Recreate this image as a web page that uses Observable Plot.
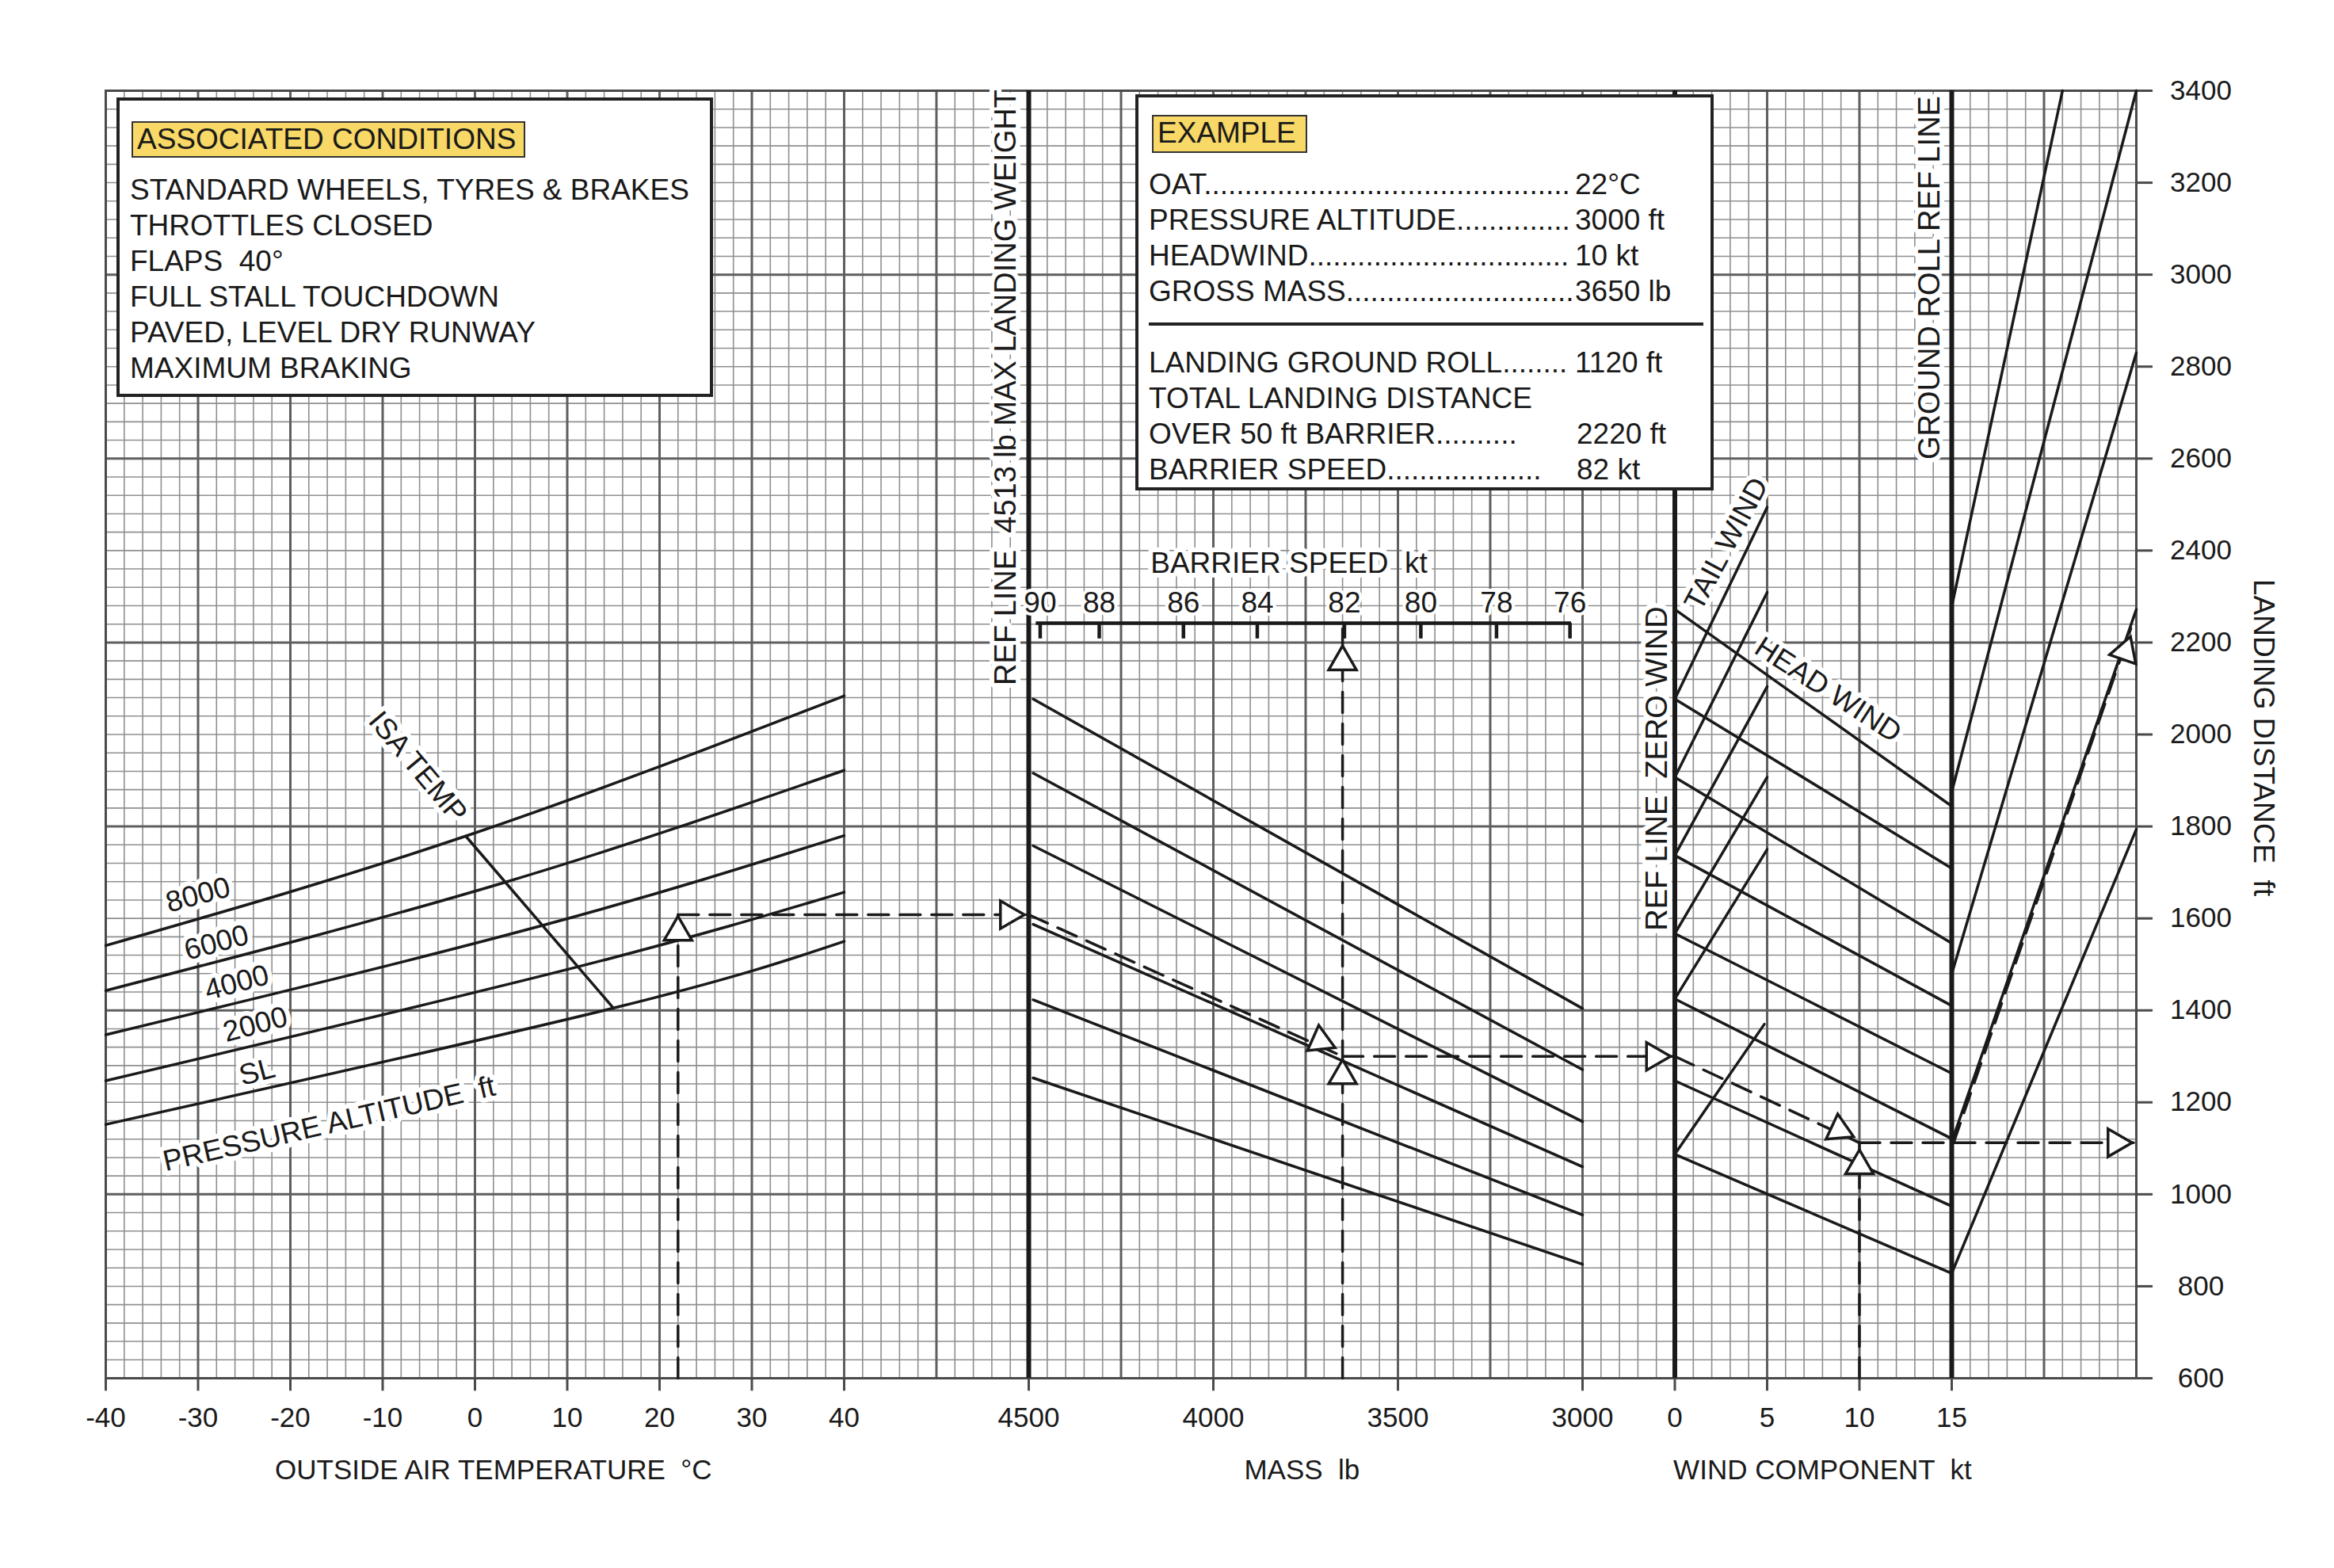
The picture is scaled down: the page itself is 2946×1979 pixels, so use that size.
<!DOCTYPE html>
<html>
<head>
<meta charset="utf-8">
<script src="https://cdn.jsdelivr.net/npm/d3@7"></script>
<script src="https://cdn.jsdelivr.net/npm/@observablehq/plot@0.6"></script>
<style>
  body { margin: 0; background: #fff; font-family: "Liberation Sans", Arial, sans-serif; color: #1a1a1a; }
  #wrap { position: relative; width: 2946px; height: 1979px; }
  #wrap svg text { white-space: pre; }
  .box { position: absolute; background: #fff; border: 4px solid #222; box-sizing: border-box; z-index: 2; }
  .tag { position: absolute; background: #f8d866; border: 2px solid #333; box-sizing: border-box;
         font-size: 37px; line-height: 42px; padding-left: 5px; white-space: nowrap; }
  .ln { position: absolute; font-size: 37px; line-height: 45px; white-space: pre; }
  .val { position: absolute; font-size: 37px; line-height: 45px; white-space: pre; }
  .rule { position: absolute; height: 4px; background: #222; }
  #chart { position: absolute; left: 0; top: 0; z-index: 1; }
</style>
</head>
<body>
<div id="wrap">
  <div class="box" style="left:147px;top:123px;width:753px;height:378px">
    <div class="tag" style="left:15px;top:26px;width:497px;height:46px">ASSOCIATED CONDITIONS</div>
    <div id="cond"></div>
  </div>
  <div class="box" style="left:1433px;top:119px;width:730px;height:500px">
    <div class="tag" style="left:17px;top:22px;width:196px;height:48px">EXAMPLE</div>
    <div id="ex"></div>
    <div class="rule" style="left:13px;top:284px;width:700px"></div>
  </div>
  <div id="chart"></div>
</div>
<script>
// Landing distance chart - three linked panels sharing a cell grid

const conditions = [
  "STANDARD WHEELS, TYRES & BRAKES",
  "THROTTLES CLOSED",
  "FLAPS  40°",
  "FULL STALL TOUCHDOWN",
  "PAVED, LEVEL DRY RUNWAY",
  "MAXIMUM BRAKING",
];
const exampleRows = [
  ["OAT", "22°C", true],
  ["PRESSURE ALTITUDE", "3000 ft", true],
  ["HEADWIND", "10 kt", true],
  ["GROSS MASS", "3650 lb", true],
  ["LANDING GROUND ROLL", "1120 ft", true],
  ["TOTAL LANDING DISTANCE", "", false],
  ["OVER 50 ft BARRIER..........", "2220 ft", false],
  ["BARRIER SPEED...................", "82 kt", false],
];

// OAT panel: pressure altitude curves (t °C, landing distance ft)
const altCurves = [
  { alt: "SL",   pts: [[-40, 1152], [15, 1405], [40, 1550]] },
  { alt: "2000", pts: [[-40, 1247], [11, 1494], [40, 1657]] },
  { alt: "4000", pts: [[-40, 1347], [7, 1583], [40, 1780]] },
  { alt: "6000", pts: [[-40, 1443], [3, 1677], [40, 1922]] },
  { alt: "8000", pts: [[-40, 1541], [-1, 1779], [40, 2084]] },
];
const isaTemp = [[-1, 1779], [15, 1405]];

// Mass panel guide lines: ft at 4488 lb, ft at 3000 lb
const massLines = [[2077, 1404], [1916, 1271], [1758, 1158], [1587, 1060], [1423, 955], [1253, 848]];
const barrierTicks = [
  { kt: 90, mass: 4469 }, { kt: 88, mass: 4309 }, { kt: 86, mass: 4081 }, { kt: 84, mass: 3881 },
  { kt: 82, mass: 3645 }, { kt: 80, mass: 3438 }, { kt: 78, mass: 3233 }, { kt: 76, mass: 3034 },
];

// Wind panel: head wind (ft at 0 kt, ft at 15 kt), tail wind (ft at 0, end kt, end ft)
const headLines = [[2272, 1844], [2077, 1709], [1907, 1546], [1737, 1410], [1567, 1263], [1425, 1121], [1247, 974], [1087, 828]];
const tailLines = [[2077, 5, 2494], [1907, 5, 2309], [1737, 5, 2104], [1567, 5, 1907], [1425, 5, 1750], [1087, 4.85, 1370]];
// Ground roll panel: ft at 15 kt ref line, end kt, end ft
const rollLines = [[2278, 21, 3400], [1875, 25, 3400], [1479, 25, 2830], [1114, 25, 2272], [828, 25, 1794]];

// Worked example
const exOat = 22, exMass = 3650, exWind = 10;
const exFt = { oat: 1608, mass: 1300, wind: 1112, total: 2230 };

const oatTicks = [-40, -30, -20, -10, 0, 10, 20, 30, 40];
const massTicks = [4500, 4000, 3500, 3000];
const windTicks = [0, 5, 10, 15];
const distTicks = d3.range(600, 3401, 200);

// panel units -> grid cells (1 cell = 2 °C = 50 lb = 1 kt)
const cT = t => (t + 40) / 2;
const cM = m => 50 + (4500 - m) / 50;
const cW = w => 85 + w;

// boxes
document.getElementById("cond").innerHTML = conditions
  .map((s, i) => `<div class="ln" style="left:13px;top:${90 + i * 45}px">${s}</div>`).join("");

// dot leaders sized to fit up to the value column
const ctx = document.createElement("canvas").getContext("2d");
ctx.font = '37px "Liberation Sans", Arial, sans-serif';
function leader(k, w) {
  let s = k;
  while (ctx.measureText(s + ".").width < w) s += ".";
  return s;
}
const exTops = [87, 132, 177, 222, 312, 357, 402, 447];
document.getElementById("ex").innerHTML = exampleRows.map(([k, v, dots], i) =>
  `<div class="ln" style="left:13px;top:${exTops[i]}px">${dots ? leader(k, 537) : k}</div>` +
  (v ? `<div class="val" style="left:${dots ? 551 : 553}px;top:${exTops[i]}px">${v}</div>` : "")).join("");

const ink = "#1a1a1a";
const seg = (a, b, id) => [{ id, x: a[0], y: a[1] }, { id, x: b[0], y: b[1] }];

const curveRows = altCurves.flatMap(c => c.pts.map(([t, ft]) => ({ alt: c.alt, x: cT(t), y: ft })));
const straight = [
  ...seg([cT(isaTemp[0][0]), isaTemp[0][1]], [cT(isaTemp[1][0]), isaTemp[1][1]], "isa"),
  ...massLines.flatMap((l, i) => seg([cM(4488), l[0]], [cM(3000), l[1]], "m" + i)),
  ...headLines.flatMap((l, i) => seg([cW(0), l[0]], [cW(15), l[1]], "h" + i)),
  ...tailLines.flatMap((l, i) => seg([cW(0), l[0]], [cW(l[1]), l[2]], "t" + i)),
  ...rollLines.flatMap((l, i) => seg([cW(15), l[0]], [cW(l[1]), l[2]], "r" + i)),
];
const dashed = [
  ...seg([cT(exOat), 600], [cT(exOat), exFt.oat], "d1"),
  ...seg([cT(exOat), exFt.oat], [cM(4500), exFt.oat], "d2"),
  ...seg([cM(4500), exFt.oat], [cM(exMass), exFt.mass], "d3"),
  ...seg([cM(exMass), 600], [cM(exMass), 2232], "d4"),
  ...seg([cM(exMass), exFt.mass], [cW(0), exFt.mass], "d5"),
  ...seg([cW(0), exFt.mass], [cW(exWind), exFt.wind], "d6"),
  ...seg([cW(exWind), 600], [cW(exWind), exFt.wind], "d7"),
  ...seg([cW(exWind), exFt.wind], [cW(25), exFt.wind], "d8"),
  ...seg([cW(15.1), exFt.wind], [cW(24.7), exFt.total], "d9"),
];
const arrows = [
  { x: cT(exOat), y: 1570, rot: 0 },
  { x: 48.9, y: exFt.oat, rot: 90 },
  { x: 65.8, y: 1333, rot: 114 },
  { x: cM(exMass), y: 2158, rot: 0 },
  { x: cM(exMass), y: 1258, rot: 0 },
  { x: 83.9, y: exFt.mass, rot: 90 },
  { x: 93.9, y: 1140, rot: 115 },
  { x: cW(exWind), y: 1062, rot: 0 },
  { x: 108.9, y: exFt.wind, rot: 90 },
  { x: 109.4, y: 2180, rot: 19 },
];

// in-chart labels (cells, ft)
const labels = [
  { text: "8000", x: 5.0, y: 1651, r: -15 },
  { text: "6000", x: 6.0, y: 1547, r: -15 },
  { text: "4000", x: 7.1, y: 1460, r: -15 },
  { text: "2000", x: 8.1, y: 1369, r: -15 },
  { text: "SL", x: 8.2, y: 1266, r: -15 },
  { text: "PRESSURE ALTITUDE  ft", x: 12.1, y: 1153, r: -13 },
  { text: "ISA TEMP", x: 16.9, y: 1929, r: 50 },
  { text: "TAIL WIND", x: 87.8, y: 2414, r: -62 },
  { text: "HEAD WIND", x: 93.3, y: 2097, r: 33 },
  { text: "BARRIER SPEED  kt", x: cM(3795), y: 2372, r: 0 },
];
const vLabels = [
  { text: "REF LINE  4513 lb MAX LANDING WEIGHT", x: 48.75, y: 2107 },
  { text: "REF LINE  ZERO WIND", x: 84.05, y: 1573 },
  { text: "GROUND ROLL REF LINE", x: 98.8, y: 2598 },
];
const bottomTicks = [
  ...oatTicks.map(v => ({ x: cT(v), text: String(v) })),
  ...massTicks.map(v => ({ x: cM(v), text: String(v) })),
  ...windTicks.map(v => ({ x: cW(v), text: String(v) })),
];
const axisTitles = [
  { text: "OUTSIDE AIR TEMPERATURE  °C", x: 21 },
  { text: "MASS  lb", x: 64.8 },
  { text: "WIND COMPONENT  kt", x: 93 },
];

const font = { fontSize: 35, fill: ink, fontFamily: "Liberation Sans, Arial, sans-serif" };
const big = { ...font, fontSize: 37 };

const plot = Plot.plot({
  width: 2946,
  height: 1979,
  marginLeft: 133,
  marginRight: 250,
  marginTop: 114,
  marginBottom: 240,
  x: { domain: [0, 110], axis: null },
  y: { domain: [600, 3400], axis: null },
  style: { background: "#fff", fontFamily: "Liberation Sans, Arial, sans-serif" },
  marks: [
    Plot.ruleX(d3.range(0, 111), { stroke: "#8f8f8f", strokeWidth: 1.6 }),
    Plot.ruleY(d3.range(600, 3401, 40), { stroke: "#8f8f8f", strokeWidth: 1.6 }),
    Plot.ruleX(d3.range(0, 111, 5), { stroke: "#5f5f5f", strokeWidth: 3 }),
    Plot.ruleY(d3.range(600, 3401, 400), { stroke: "#5f5f5f", strokeWidth: 3 }),
    Plot.frame({ stroke: "#4a4a4a", strokeWidth: 3 }),
    // bottom and right ticks
    Plot.ruleX(bottomTicks, { x: "x", y1: 600, y2: 572, stroke: "#4a4a4a", strokeWidth: 3 }),
    Plot.ruleY(distTicks, { x1: 110, x2: 110.9, stroke: "#4a4a4a", strokeWidth: 3 }),
    // reference lines
    Plot.ruleX([50, 85, 100], { stroke: ink, strokeWidth: 6 }),
    // curves
    Plot.line(curveRows, { x: "x", y: "y", z: "alt", curve: "natural", stroke: ink, strokeWidth: 3.5 }),
    Plot.line(straight, { x: "x", y: "y", z: "id", stroke: ink, strokeWidth: 3.5 }),
    // barrier speed scale
    Plot.ruleY([2242], { x1: cM(4480), x2: cM(3030), stroke: ink, strokeWidth: 4.5 }),
    Plot.ruleX(barrierTicks, { x: d => cM(d.mass), y1: 2242, y2: 2208, stroke: ink, strokeWidth: 4.5 }),
    Plot.text(barrierTicks, { x: d => cM(d.mass), y: 2286, text: d => String(d.kt), ...big, stroke: "white", strokeWidth: 8 }),
    // worked example
    Plot.line(dashed, { x: "x", y: "y", z: "id", stroke: ink, strokeWidth: 3.5, strokeDasharray: "26 14" }),
    Plot.dot(arrows, { x: "x", y: "y", rotate: "rot", symbol: "triangle", r: 13, fill: "white", stroke: ink, strokeWidth: 3.5 }),
    // labels
    Plot.text(labels, { x: "x", y: "y", text: "text", rotate: "r", ...big, stroke: "white", strokeWidth: 12 }),
    Plot.text(vLabels, { x: "x", y: "y", text: "text", rotate: -90, textAnchor: "start", ...big, fontSize: 38, stroke: "white", strokeWidth: 12 }),
    Plot.text(bottomTicks, { x: "x", y: 513, text: "text", ...font }),
    Plot.text(distTicks, { x: 113.5, y: d => d, text: d => String(d), ...font }),
    Plot.text(axisTitles, { x: "x", y: 400, text: "text", ...font }),
    Plot.text(["LANDING DISTANCE  ft"], { x: 116.9, y: 1993, rotate: 90, ...big }),
  ],
});
document.getElementById("chart").appendChild(plot);
</script>
</body>
</html>
